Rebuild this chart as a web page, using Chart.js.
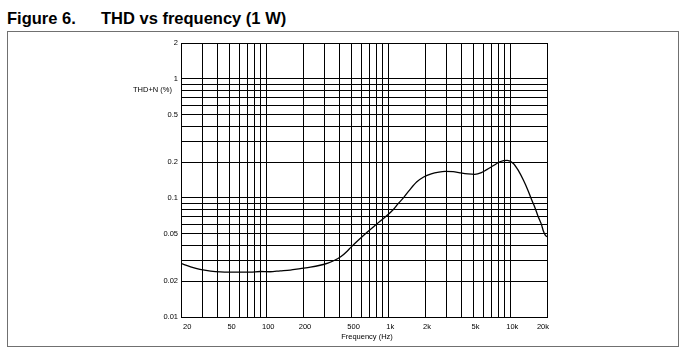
<!DOCTYPE html>
<html><head><meta charset="utf-8">
<script src="https://cdn.jsdelivr.net/npm/chart.js@4"></script>
<style>
html,body{margin:0;padding:0;background:#fff;}
body{width:688px;height:355px;position:relative;overflow:hidden;font-family:"Liberation Sans",Arial,sans-serif;}
.t{position:absolute;top:8px;font-weight:bold;font-size:16.5px;line-height:20px;white-space:pre;color:#000;}
#frame{position:absolute;left:7px;top:31px;width:670px;height:314px;border:1px solid #707070;}
#c{position:absolute;left:0;top:0;}
</style></head>
<body>
<div class="t" style="left:7px">Figure 6.</div>
<div class="t" style="left:101px">THD vs frequency (1 W)</div>
<div id="frame"></div>
<canvas id="c" width="688" height="355"></canvas>
<script>
const freqs = [20,24,28.6,35,42,50,60,74,89,107,130,157,190,230,276,320,360,410,460,500,650,800,970,1100,1210,1330,1500,1716,1950,2250,2600,2920,3400,3870,4500,5120,5800,6420,7300,8220,9440,10600,11600,12800,14000,15000,16000,16950,18000,18640,19300,20000];
const thd   = [0.0282,0.0264,0.0251,0.0243,0.0239,0.0238,0.0238,0.0238,0.0241,0.0240,0.0244,0.0248,0.0255,0.0262,0.0272,0.0284,0.0298,0.0322,0.0357,0.0390,0.050,0.060,0.0708,0.080,0.090,0.100,0.117,0.1366,0.150,0.1595,0.1650,0.1670,0.1665,0.1626,0.1590,0.1576,0.1630,0.1727,0.187,0.2012,0.2067,0.1949,0.171,0.1412,0.115,0.0959,0.082,0.0694,0.060,0.0530,0.049,0.0471];

const xGridVals = [20,30,40,50,60,70,80,90,100,200,300,400,500,600,700,800,900,1000,2000,3000,4000,5000,6000,7000,8000,9000,10000,20000];
const xLabelVals = [20,50,100,200,500,1000,2000,5000,10000,20000];
const xLabelText = ['20','50','100','200','500','1k','2k','5k','10k','20k'];
const yGridVals = [0.01,0.02,0.03,0.04,0.05,0.06,0.07,0.08,0.09,0.1,0.2,0.3,0.4,0.5,0.6,0.7,0.8,0.9,1,2];
const yLabelVals = [0.01,0.02,0.05,0.1,0.2,0.5,1,2];
const yLabelText = ['0.01','0.02','0.05','0.1','0.2','0.5','1','2'];
const xTitle = 'Frequency (Hz)';
const yTitle = 'THD+N (%)';

const FONT_FAMILY = '"Liberation Sans", Arial, Helvetica, sans-serif';
const tickFont = {family: FONT_FAMILY, size: 7.5};

const textPlugin = {
  id: 'axisTexts',
  afterDraw(chart) {
    const c = chart.ctx, a = chart.chartArea, ys = chart.scales.y;
    c.save();
    c.fillStyle = '#000';
    c.font = '7.5px ' + FONT_FAMILY;
    c.textAlign = 'right';
    c.textBaseline = 'middle';
    c.fillText(yTitle, a.left - 9, ys.getPixelForValue(1) + 11);
    c.textAlign = 'center';
    c.fillText(xTitle, (a.left + a.right) / 2 + 3, a.bottom + 20);
    c.restore();
  }
};

new Chart(document.getElementById('c').getContext('2d'), {
  type: 'scatter',
  data: {
    datasets: [{
      data: freqs.map((f, i) => ({x: f, y: thd[i]})),
      showLine: true,
      borderColor: '#000',
      borderWidth: 1.3,
      pointRadius: 0,
      fill: false,
      cubicInterpolationMode: 'monotone'
    }]
  },
  options: {
    responsive: false,
    animation: false,
    devicePixelRatio: 1,
    layout: {padding: {left: 0, top: 43, right: 141, bottom: 0}},
    plugins: {legend: {display: false}, tooltip: {enabled: false}},
    scales: {
      x: {
        type: 'logarithmic', min: 20, max: 20000, position: 'bottom',
        afterBuildTicks: s => { s.ticks = xGridVals.map(v => ({value: v})); },
        afterFit: s => { s.height = 38; },
        grid: {color: '#000', lineWidth: 1, drawTicks: false},
        border: {color: '#000', width: 1},
        ticks: {
          autoSkip: false, maxRotation: 0, minRotation: 0, padding: 5, align: 'inner', labelOffset: 2,
          color: '#000', font: tickFont,
          callback: v => { const i = xLabelVals.indexOf(v); return i >= 0 ? xLabelText[i] : ''; }
        }
      },
      y: {
        type: 'logarithmic', min: 0.01, max: 2, position: 'left',
        afterBuildTicks: s => { s.ticks = yGridVals.map(v => ({value: v})); },
        afterFit: s => { s.width = 181; },
        grid: {color: '#000', lineWidth: 1, drawTicks: false},
        border: {color: '#000', width: 1},
        ticks: {
          autoSkip: false, padding: 3, color: '#000', font: tickFont,
          callback: v => { const i = yLabelVals.indexOf(v); return i >= 0 ? yLabelText[i] : ''; }
        }
      }
    }
  },
  plugins: [textPlugin]
});
</script>
</body></html>
